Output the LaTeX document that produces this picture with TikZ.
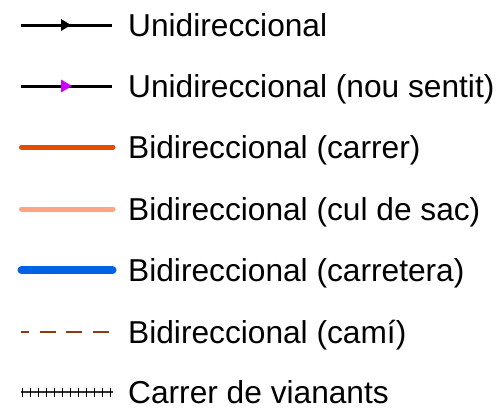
\documentclass[tikz,border=0pt]{standalone}
\usepackage{fontspec}
\setmainfont{Liberation Sans}
\definecolor{orangeSt}{RGB}{226,77,2}
\definecolor{salmonSt}{RGB}{255,164,128}
\definecolor{blueSt}{RGB}{0,98,228}
\definecolor{brownSt}{RGB}{140,58,14}
\definecolor{magentaSt}{RGB}{204,0,255}
\begin{document}
\begin{tikzpicture}[x=1bp,y=-1bp,
  lbl/.style={anchor=base west,inner sep=0pt,font=\fontsize{31.8}{36}\selectfont},
  oneway/.style={line width=3bp,black},
  bidir/.style={line width=5bp,line cap=round},
]
\useasboundingbox (0,0) rectangle (500,409);
% row 1
\coordinate (a1) at (21,25); \coordinate (b1) at (112,25);
\draw[oneway] (a1) -- (b1);
\fill[black] (61,19) -- (71,25) -- (61,31) -- cycle;
\node[lbl] (t1) at (128,36.5) {Unidireccional};
% row 2
\coordinate (a2) at (21,86); \coordinate (b2) at (112,86);
\draw[oneway] (a2) -- (b2);
\fill[magentaSt] (61,79.5) -- (72,86) -- (61,92.5) -- cycle;
\node[lbl] (t2) at (128,97.5) {Unidireccional (nou sentit)};
% row 3
\coordinate (a3) at (21.5,147); \coordinate (b3) at (113,147);
\draw[bidir,orangeSt] (a3) -- (b3);
\node[lbl] (t3) at (128,158.5) {Bidireccional (carrer)};
% row 4
\coordinate (a4) at (21.5,209); \coordinate (b4) at (113,209);
\draw[bidir,salmonSt] (a4) -- (b4);
\node[lbl] (t4) at (128,220.5) {Bidireccional (cul de sac)};
% row 5
\coordinate (a5) at (21.5,270); \coordinate (b5) at (112.5,270);
\draw[line width=8bp,line cap=round,blueSt] (a5) -- (b5);
\node[lbl] (t5) at (128,281.5) {Bidireccional (carretera)};
% row 6
\coordinate (a6) at (21,332); \coordinate (b6) at (109,332);
\draw[line width=2.5bp,brownSt,dash pattern=on 16bp off 10.5bp,dash phase=8bp] (a6) -- (b6);
\node[lbl] (t6) at (128,343.5) {Bidireccional (camí)};
% row 7
\coordinate (a7) at (21,392); \coordinate (b7) at (113,392);
\draw[line width=2.5bp,black!80] (a7) -- (b7);
\foreach \i in {0,...,11} {
  \draw[line width=1bp,black] (22+\i*8.09,387.5) -- (22+\i*8.09,396.5);
}
\node[lbl] (t7) at (128,403.5) {Carrer de vianants};
\end{tikzpicture}
\end{document}
